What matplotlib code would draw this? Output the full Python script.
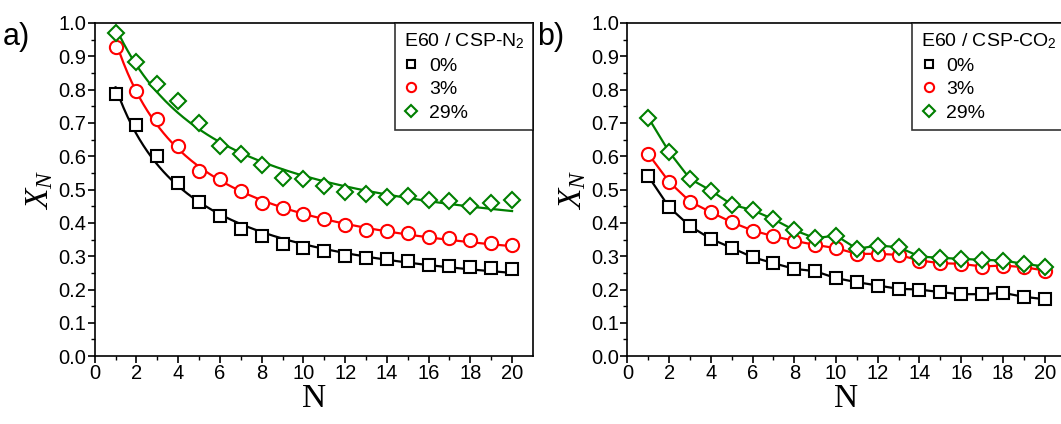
import numpy as np
import matplotlib
matplotlib.use("Agg")
import matplotlib.pyplot as plt
from matplotlib.lines import Line2D

plt.rcParams['font.family'] = ['Liberation Sans', 'DejaVu Sans']
plt.rcParams['mathtext.fontset'] = 'custom'
plt.rcParams['mathtext.rm'] = 'Liberation Sans'
plt.rcParams['mathtext.it'] = 'Liberation Serif:italic'

# number of cycles
N = np.arange(1, 21)

# a) E60 / CSP-N2
a_0 = [0.787, 0.694, 0.600, 0.520, 0.463, 0.420, 0.381, 0.360, 0.336, 0.326,
       0.315, 0.300, 0.296, 0.293, 0.285, 0.273, 0.272, 0.267, 0.265, 0.263]
a_3 = [0.929, 0.796, 0.712, 0.631, 0.557, 0.532, 0.496, 0.459, 0.446, 0.426,
       0.413, 0.393, 0.380, 0.377, 0.370, 0.358, 0.356, 0.348, 0.340, 0.333]
a_29 = [0.969, 0.884, 0.817, 0.766, 0.700, 0.632, 0.608, 0.575, 0.536, 0.533,
        0.511, 0.494, 0.486, 0.478, 0.480, 0.468, 0.466, 0.450, 0.460, 0.470]

# b) E60 / CSP-CO2
b_0 = [0.540, 0.447, 0.390, 0.352, 0.325, 0.297, 0.279, 0.262, 0.255, 0.234,
       0.222, 0.212, 0.202, 0.200, 0.192, 0.186, 0.186, 0.190, 0.178, 0.171]
b_3 = [0.607, 0.523, 0.464, 0.432, 0.402, 0.377, 0.360, 0.346, 0.334, 0.324,
       0.307, 0.307, 0.304, 0.287, 0.279, 0.277, 0.269, 0.272, 0.267, 0.257]
b_29 = [0.716, 0.613, 0.532, 0.497, 0.455, 0.438, 0.411, 0.378, 0.354, 0.362,
        0.322, 0.332, 0.327, 0.299, 0.295, 0.292, 0.289, 0.287, 0.277, 0.269]

labels = ['0%', '3%', '29%']
colors = ['black', 'red', '#007f00']
markers = ['s', 'o', 'D']
msizes = [8.5, 9.5, 8.5]


def fit_curve(x, y):
    # least squares fit of X_N = Xr + 1 / (b + k*N), brute force grid
    y = np.asarray(y)
    xr = np.linspace(0.0, 0.5, 101)[:, None, None, None]
    b = np.linspace(0.3, 6, 115)[None, :, None, None]
    k = np.linspace(0.0, 3, 121)[None, None, :, None]
    model = xr + 1.0 / (b + k * x[None, None, None, :])
    sse = ((model - y) ** 2).sum(axis=-1)
    i, j, l = np.unravel_index(np.argmin(sse), sse.shape)
    xf = np.linspace(x.min(), x.max(), 200)
    return xf, xr.ravel()[i] + 1.0 / (b.ravel()[j] + k.ravel()[l] * xf)


def style_axes(ax):
    ax.set_xlim(0, 21)
    ax.set_ylim(0, 1.0)
    ax.set_xticks(np.arange(0, 21, 2))
    ax.set_xticks(np.arange(1, 21, 2), minor=True)
    ax.set_yticks(np.arange(0, 1.01, 0.1))
    ax.set_yticks(np.arange(0.05, 1.0, 0.1), minor=True)
    ax.yaxis.set_major_formatter(matplotlib.ticker.FormatStrFormatter('%.1f'))
    ax.tick_params(which='major', direction='out', length=5, width=1.2,
                   labelsize=14.5, top=False, right=False, pad=1)
    ax.tick_params(which='minor', direction='out', length=3, width=1.0,
                   top=False, right=False)
    for sp in ax.spines.values():
        sp.set_linewidth(1.2)
    ax.set_xlabel('N', family='Liberation Serif', fontsize=24, labelpad=0)
    ax.set_ylabel('$X_N$', fontsize=24, labelpad=2)


def add_legend(ax, title):
    handles = [Line2D([], [], linestyle='none', marker=m, color=c,
                      markerfacecolor='white', markeredgewidth=1.5,
                      markersize=s * 0.7)
               for m, c, s in zip(markers, colors, msizes)]
    leg = ax.legend(handles, labels, title=title, loc='upper right',
                    fontsize=14, title_fontsize=14, frameon=True,
                    fancybox=False, borderaxespad=0, handlelength=0.8,
                    handletextpad=0.5, labelspacing=0.3, borderpad=0.45)
    leg.get_frame().set_edgecolor('black')
    leg.get_frame().set_linewidth(1.2)
    leg._legend_box.align = 'left'


fig = plt.figure(figsize=(10.61, 4.24), dpi=100)
ax_a = fig.add_axes([0.0893, 0.160, 0.413, 0.786])
ax_b = fig.add_axes([0.5913, 0.160, 0.413, 0.786])

for y, c, m, s in zip([a_0, a_3, a_29], colors, markers, msizes):
    xf, yf = fit_curve(N, y)
    ax_a.plot(xf, yf, color=c, linewidth=1.6)
    ax_a.plot(N, y, linestyle='none', marker=m, color=c, markerfacecolor='white',
              markeredgewidth=1.5, markersize=s)

for y, c, m, s in zip([b_0, b_3, b_29], colors, markers, msizes):
    ax_b.plot(N, y, color=c, linewidth=1.6, marker=m, markerfacecolor='white',
              markeredgewidth=1.5, markersize=s)

style_axes(ax_a)
style_axes(ax_b)
add_legend(ax_a, 'E60 / CSP-N$_2$')
add_legend(ax_b, 'E60 / CSP-CO$_2$')

fig.text(0.003, 0.895, 'a)', fontsize=22)
fig.text(0.506, 0.895, 'b)', fontsize=22)

fig.savefig('out.png', dpi=100, facecolor='white')
